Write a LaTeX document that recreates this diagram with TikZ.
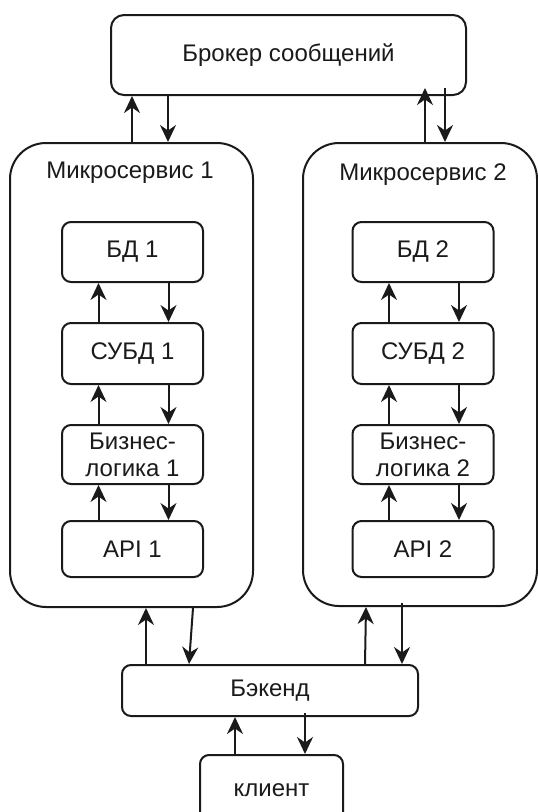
\documentclass[tikz,border=0pt]{standalone}
\usepackage{fontspec}
\setmainfont{Liberation Sans}
\usetikzlibrary{arrows.meta,positioning,calc}
\definecolor{MSInk}{HTML}{1A1A1A}
\tikzset{
  flow/.style={-{Stealth[length=17pt,width=16pt,inset=5.5pt]},MSInk,line width=2pt},
  box/.style={draw=MSInk,line width=2pt,fill=white,rounded corners=9pt,
              text=MSInk,align=center,font=\fontsize{24}{26}\selectfont},
  service/.style={box,rounded corners=36pt},
  layer/.style={box,minimum width=141pt},
  title/.style={text=MSInk,font=\fontsize{24}{26}\selectfont},
}
\begin{document}
\begin{tikzpicture}[x=1pt,y=-1pt]
    \useasboundingbox (0,0) rectangle (538,812);

    % broker on top, two services below it
    \node[box,rounded corners=13pt,minimum width=355pt,minimum height=80pt] (broker) at (288.5,55) {Брокер сообщений};
    \node[service,minimum width=243pt,minimum height=464pt] (ms1) at (131.5,375) {};
    \node[service,minimum width=234pt,minimum height=463pt] (ms2) at (420,374.5) {};
    \node[title] (ms1title) at (130,173) {Микросервис 1};
    \node[title] (ms2title) at (423,175) {Микросервис 2};

    % layers inside each service
    \foreach \s/\cx in {1/132.5,2/423}{
      \node[layer,minimum height=60pt] (bd\s)   at (\cx,252)   {БД \s};
      \node[layer,minimum height=61pt] (subd\s) at (\cx,353.5) {СУБД \s};
      \node[layer,minimum height=59pt,inner sep=1pt,font=\fontsize{24}{27}\selectfont] (biz\s) at (\cx,454.5) {Бизнес-\\логика \s};
      \node[layer,minimum height=56pt] (api\s)  at (\cx,549)   {API \s};
    }
    \foreach \lo/\hi in {subd1/bd1,biz1/subd1,api1/biz1,subd2/bd2,biz2/subd2,api2/biz2}{
      \draw[flow] ([xshift=-34pt]\lo.north) -- ([xshift=-34pt]\hi.south);
      \draw[flow] ([xshift=36pt]\hi.south) -- ([xshift=36pt]\lo.north);
    }

    \node[box,minimum width=296pt,minimum height=51pt] (backend) at (270,690.5) {Бэкенд};
    \node[box,minimum width=143pt,minimum height=70pt] (client) at (271.5,790) {клиент};

    % broker <-> services
    \draw[flow] ([xshift=0.5pt]ms1.north) -- ([xshift=0.5pt]ms1.north |- broker.south);
    \draw[flow] ([xshift=36.5pt]ms1.north |- broker.south) -- ([xshift=36.5pt]ms1.north);
    \draw[flow] ([xshift=5pt]ms2.north) -- ([xshift=5pt,yshift=8pt]ms2.north |- broker.south);
    \draw[flow] ([xshift=25pt,yshift=8pt]ms2.north |- broker.south) -- ([xshift=25pt]ms2.north);

    % backend <-> services
    \draw[flow] ([xshift=14.5pt]ms1.south |- backend.north) -- ([xshift=14.5pt]ms1.south);
    \draw[flow] ([xshift=61.5pt]ms1.south) -- ([xshift=57.5pt]ms1.south |- backend.north);
    \draw[flow] ([xshift=-55pt]ms2.south |- backend.north) -- ([xshift=-54pt]ms2.south);
    \draw[flow] ([xshift=-18pt,yshift=4pt]ms2.south) -- ([xshift=-18pt]ms2.south |- backend.north);

    % client <-> backend
    \draw[flow] ([xshift=-36.5pt]client.north) -- ([xshift=-36.5pt]client.north |- backend.south);
    \draw[flow] ([xshift=33.5pt,yshift=4pt]client.north |- backend.south) -- ([xshift=33.5pt]client.north);
\end{tikzpicture}
\end{document}
